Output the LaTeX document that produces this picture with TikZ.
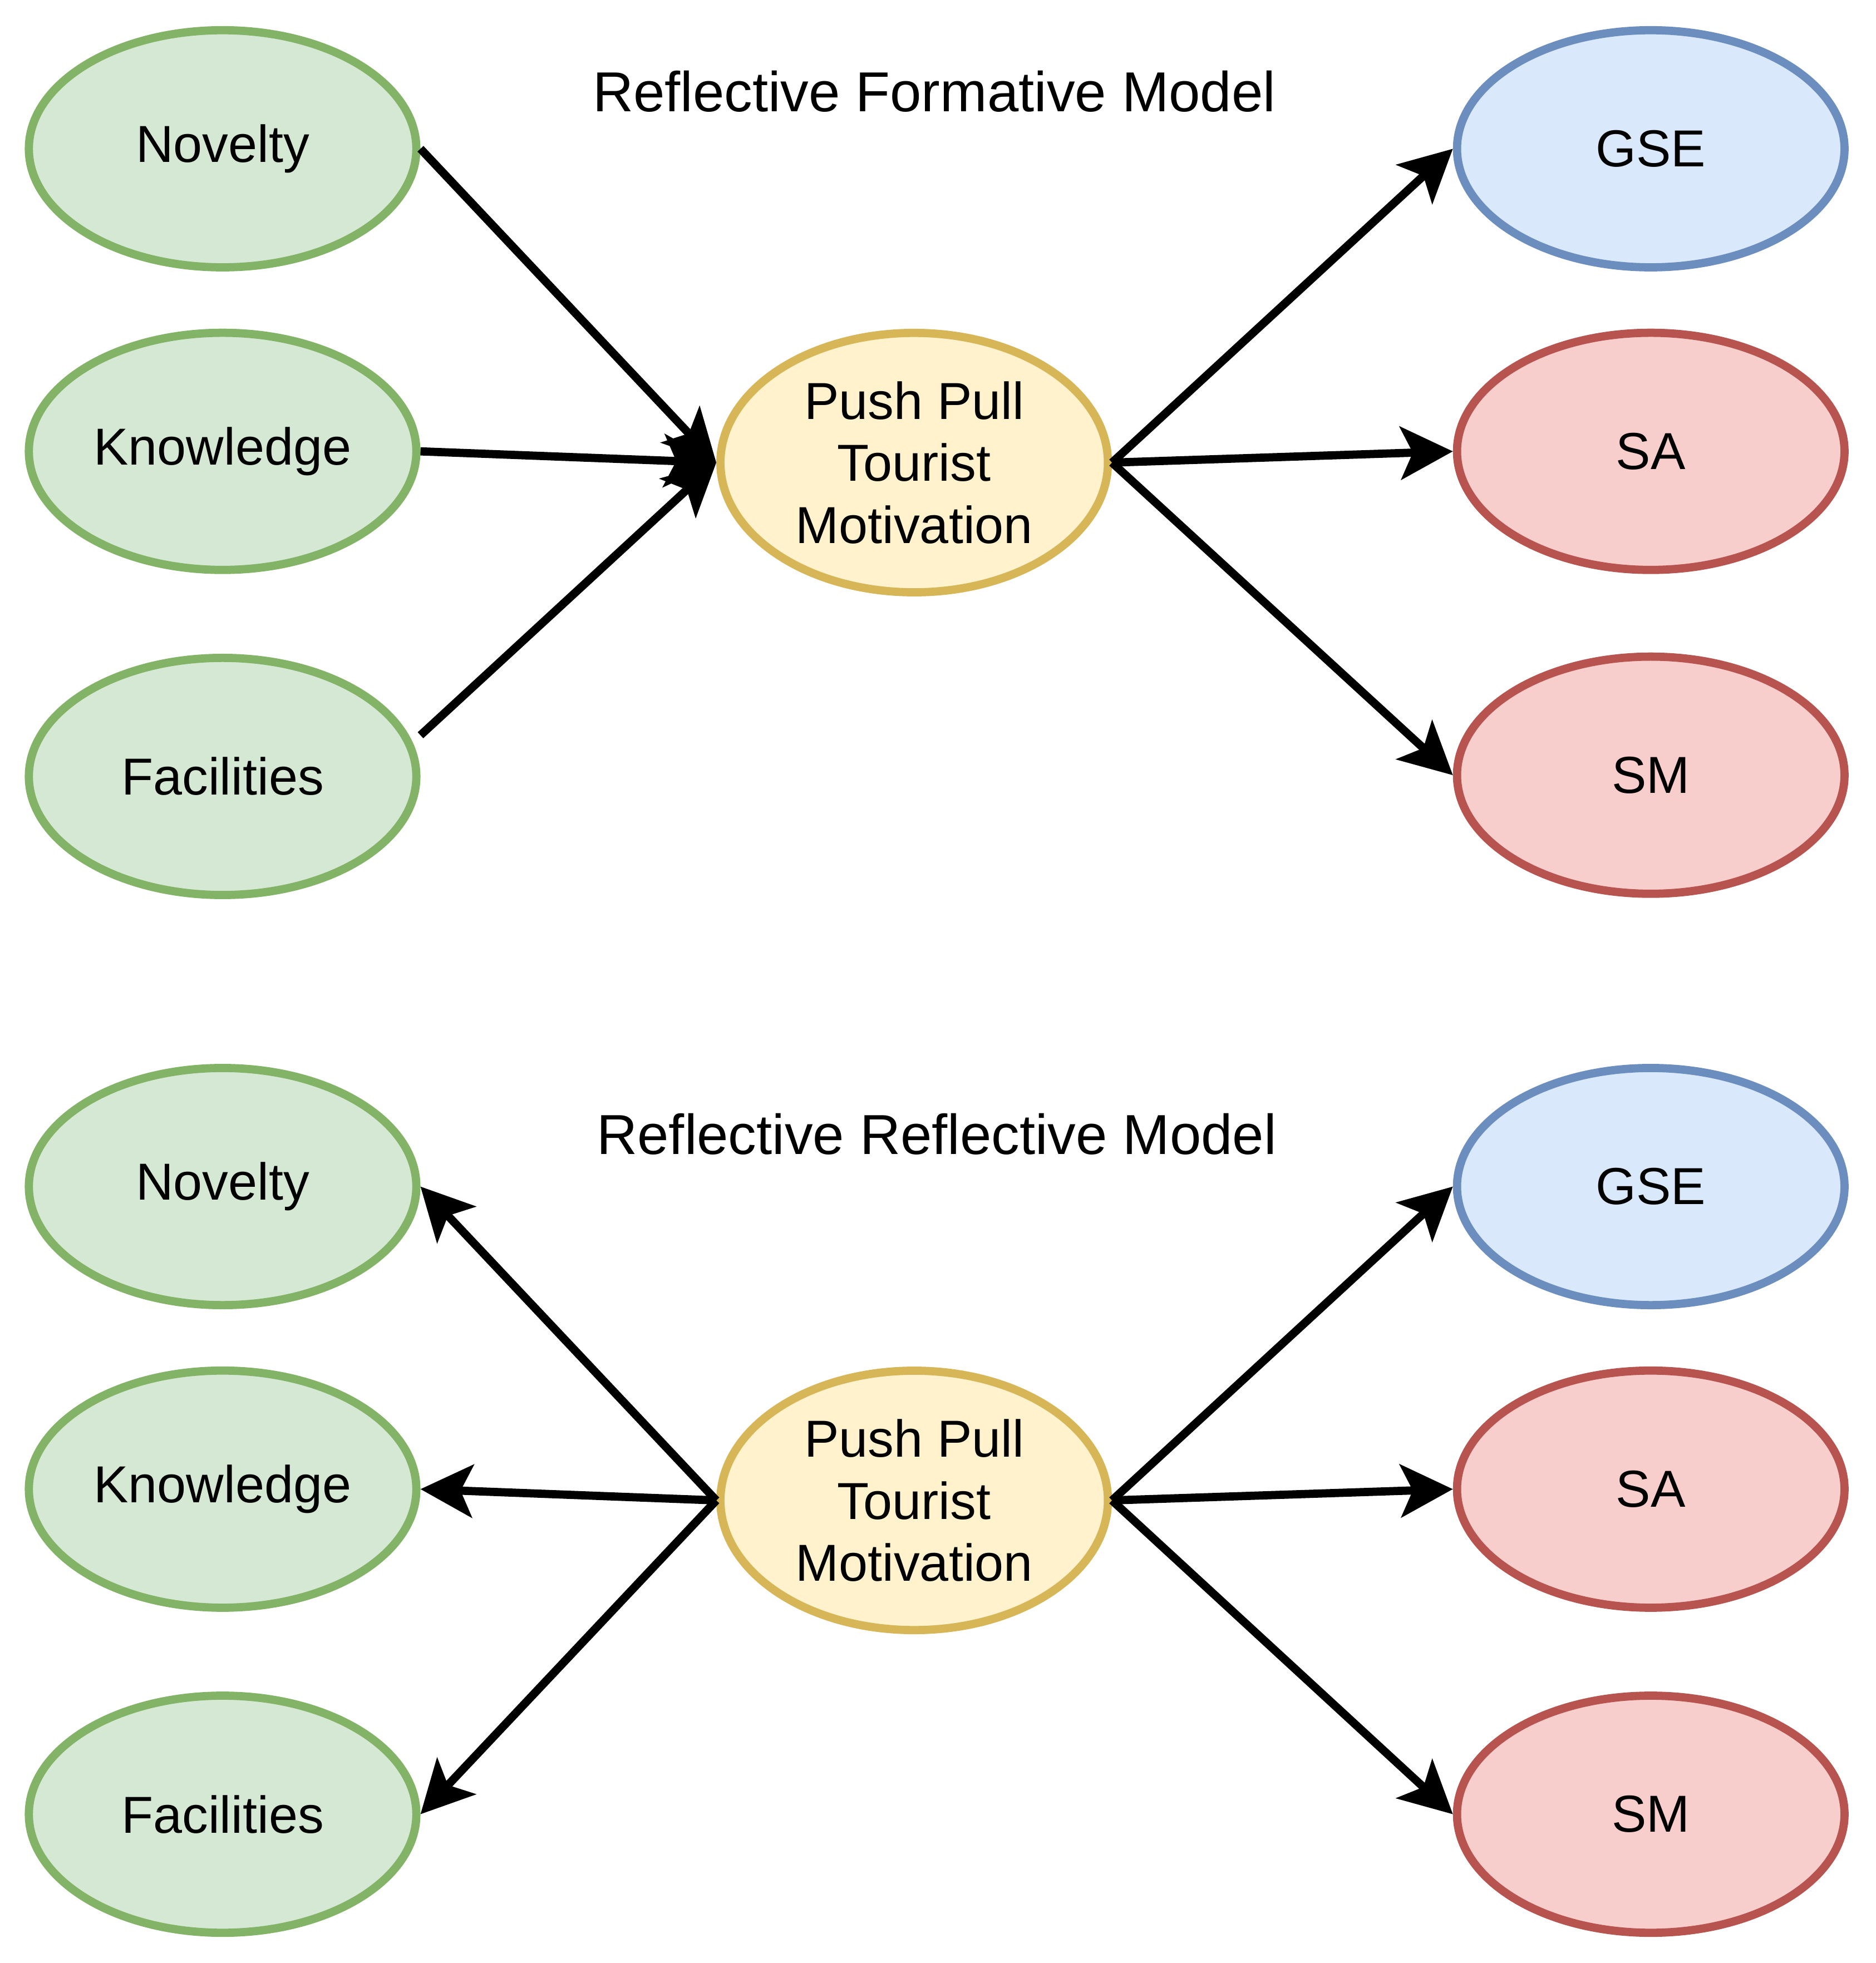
\documentclass[tikz,border=0pt]{standalone}
\usepackage{fontspec}
\setmainfont{Liberation Sans}
\usepackage{xcolor}
\usepackage{tikz}
\usetikzlibrary{shapes,arrows.meta,calc}

\definecolor{grnfill}{HTML}{D5E8D4}
\definecolor{grnline}{HTML}{82B366}
\definecolor{bluefill}{HTML}{DAE8FC}
\definecolor{blueline}{HTML}{6C8EBF}
\definecolor{redfill}{HTML}{F8CECC}
\definecolor{redline}{HTML}{B85450}
\definecolor{yelfill}{HTML}{FFF2CC}
\definecolor{yelline}{HTML}{D6B656}

\begin{document}
\begin{tikzpicture}[x=0.011233cm, y=-0.011233cm,
    construct/.style={ellipse, line width=2.1pt, inner sep=0pt, minimum width=3.48cm, minimum height=2.13cm, font=\fontsize{13.3}{15.9}\selectfont},
    indicator/.style={construct, draw=grnline, fill=grnfill},
    outcomeb/.style={construct, draw=blueline, fill=bluefill},
    outcomer/.style={construct, draw=redline, fill=redfill},
    motive/.style={construct, draw=yelline, fill=yelfill, minimum height=2.33cm, align=center},
    arr/.style={line width=2.1pt, -{Stealth[length=0.47cm, width=0.475cm, inset=0.11cm]}},
    heading/.style={font=\fontsize{14.4}{17}\selectfont}]
    \useasboundingbox (0,0) rectangle (1500,1570);

    % Reflective Formative
    \node[heading] (title1) at (747, 73) {Reflective Formative Model};
    \node[indicator] (nov1) at (178, 119) {Novelty};
    \node[indicator] (kno1) at (178, 361) {Knowledge};
    \node[indicator] (fac1) at (178, 621) {Facilities};
    \node[motive] (ppm1) at (731, 370) {Push Pull\\Tourist\\Motivation};
    \node[outcomeb] (gse1) at (1320, 119) {GSE};
    \node[outcomer] (sa1) at (1320, 361) {SA};
    \node[outcomer] (sm1) at (1320, 620) {SM};

    \draw[arr] (nov1.east) -- (ppm1.west);
    \draw[arr] (kno1.east) -- (ppm1.west);
    \draw[arr] ([yshift=0.37cm]fac1.east) -- (ppm1.west);
    \draw[arr] (ppm1.east) -- (gse1.west);
    \draw[arr] (ppm1.east) -- (sa1.west);
    \draw[arr] (ppm1.east) -- (sm1.west);

    % Reflective Reflective
    \node[heading] (title2) at (749, 907) {Reflective Reflective Model};
    \node[indicator] (nov2) at (178, 949) {Novelty};
    \node[indicator] (kno2) at (178, 1191) {Knowledge};
    \node[indicator] (fac2) at (178, 1451) {Facilities};
    \node[motive] (ppm2) at (731, 1200) {Push Pull\\Tourist\\Motivation};
    \node[outcomeb] (gse2) at (1320, 949) {GSE};
    \node[outcomer] (sa2) at (1320, 1191) {SA};
    \node[outcomer] (sm2) at (1320, 1451) {SM};

    \draw[arr] (ppm2.west) -- (nov2.east);
    \draw[arr] (ppm2.west) -- (kno2.east);
    \draw[arr] (ppm2.west) -- (fac2.east);
    \draw[arr] (ppm2.east) -- (gse2.west);
    \draw[arr] (ppm2.east) -- (sa2.west);
    \draw[arr] (ppm2.east) -- (sm2.west);
\end{tikzpicture}
\end{document}
